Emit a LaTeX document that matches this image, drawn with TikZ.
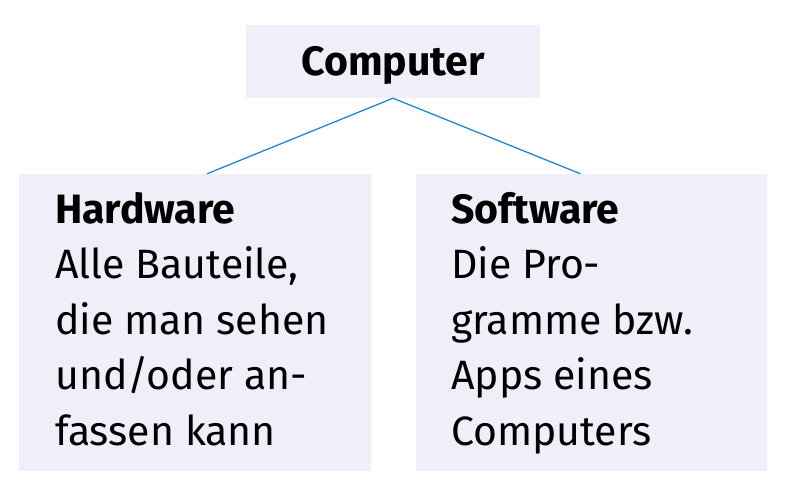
\documentclass[tikz,border=0pt]{standalone}
\usepackage{fontspec}
\setmainfont{Fira Sans}
\definecolor{boxfill}{HTML}{EEEFF8}
\definecolor{linkblue}{HTML}{1F88D0}
\begin{document}
\begin{tikzpicture}[x=1pt,y=-1pt,
    box/.style={fill=boxfill, inner sep=0pt},
    body/.style={anchor=north west, align=left, inner sep=0pt,
        font=\fontsize{41}{55.5}\selectfont},
    link/.style={draw=linkblue, line width=1.3pt}]
    \useasboundingbox (0,0) rectangle (788,491);

    % boxes
    \node[box, minimum width=294pt, minimum height=73pt] (comp) at (393,61.5) {};
    \node[box, minimum width=352pt, minimum height=297pt] (hw) at (195,322.5) {};
    \node[box, minimum width=351pt, minimum height=297pt] (sw) at (591.5,322.5) {};

    % texts
    \node (comptext) at (393,65.5) {\fontsize{41}{44}\selectfont\bfseries Computer};
    \node[body] (hwtext) at (55,192) {\textbf{Hardware}\\Alle Bauteile,\\die man sehen\\und/oder an-\\fassen kann};
    \node[body] (swtext) at (451,192) {\textbf{Software}\\Die Pro-\\gramme bzw.\\Apps eines\\Computers};

    % connectors
    \draw[link] (comp.south) -- ([xshift=12pt]hw.north);
    \draw[link] (comp.south) -- ([xshift=-11pt]sw.north);
\end{tikzpicture}
\end{document}
